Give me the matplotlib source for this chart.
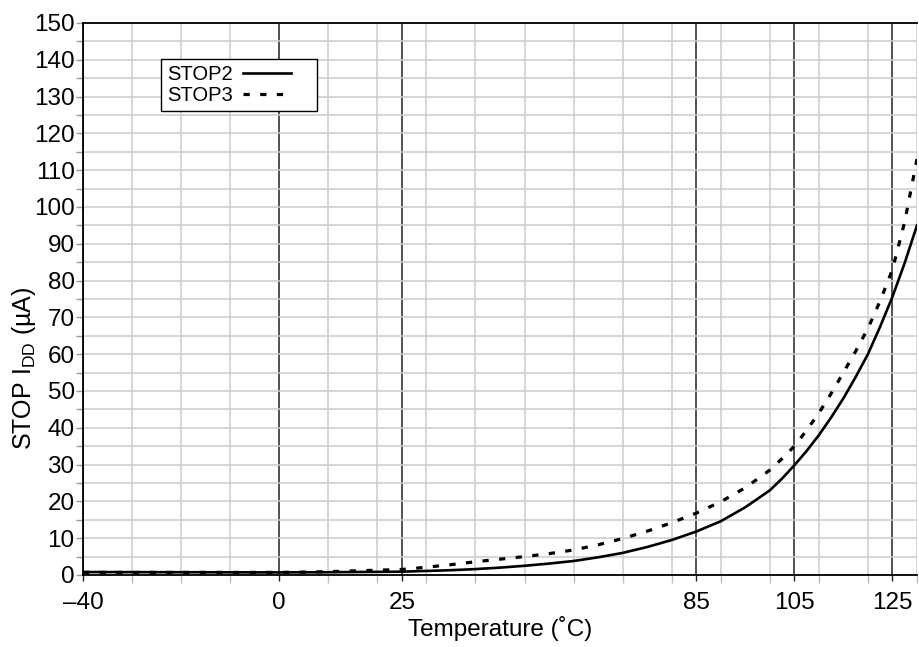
import matplotlib
matplotlib.use("Agg")
import matplotlib.pyplot as plt
from matplotlib.ticker import MultipleLocator, FixedLocator

plt.rcParams['font.family'] = ['Liberation Sans', 'DejaVu Sans']
plt.rcParams['mathtext.default'] = 'regular'
plt.rcParams['lines.scale_dashes'] = False

# Data
temp_stop2 = [-40, -20, 0, 10, 25, 30, 35, 40, 45, 50, 55, 60, 65, 70, 75, 80, 85, 90, 95,
              100, 102.5, 105, 107.5, 110, 112.5, 115, 117.5, 120, 122.5, 125, 127.5, 130]
idd_stop2 = [0.8, 0.75, 0.7, 0.75, 0.9, 1.1, 1.3, 1.6, 2.0, 2.5, 3.1, 3.8, 4.8, 6.0, 7.6, 9.5, 11.8, 14.6, 18.4,
             23.0, 26.2, 29.8, 33.7, 38.0, 42.8, 48.0, 53.8, 60.0, 67.5, 75.6, 84.8, 95.0]

temp_stop3 = [-40, -20, 0, 10, 25, 30, 35, 40, 45, 50, 55, 60, 65, 70, 75, 80, 85, 90, 95,
              100, 102.5, 105, 107.5, 110, 112.5, 115, 117.5, 120, 122.5, 125, 127.5, 130]
idd_stop3 = [0.7, 0.7, 0.7, 0.9, 1.5, 2.1, 2.8, 3.6, 4.3, 5.0, 5.8, 6.8, 8.2, 9.9, 11.9, 14.2, 16.8, 19.9, 23.7,
             28.5, 31.6, 35.0, 39.3, 44.0, 49.3, 55.0, 60.8, 67.0, 74.5, 83.0, 96.0, 113.0]

xticks_major = [-40, 0, 25, 85, 105, 125]
xtick_labels = ['\u201340', '0', '25', '85', '105', '125']
xlim = (-40, 130)
ylim = (0, 150)

fig = plt.figure(figsize=(9.19, 6.47), dpi=100)
ax = fig.add_axes([0.0903, 0.1113, 0.9075, 0.8532])

ax.set_xlim(*xlim)
ax.set_ylim(*ylim)

# Grid
ax.xaxis.set_major_locator(FixedLocator(xticks_major))
ax.set_xticklabels(xtick_labels)
ax.xaxis.set_minor_locator(MultipleLocator(10))
ax.yaxis.set_major_locator(MultipleLocator(10))
ax.yaxis.set_minor_locator(MultipleLocator(5))

ax.grid(True, axis='x', which='minor', color='#cccccc', linewidth=1.1, zorder=0)
ax.grid(True, axis='y', which='both', color='#cccccc', linewidth=1.1, zorder=0)
ax.grid(True, axis='x', which='major', color='#222222', linewidth=1.1, zorder=1)
ax.set_axisbelow(True)

ax.tick_params(axis='y', which='both', direction='out', length=5, width=1, color='#999999',
               labelsize=17.5, pad=1)
ax.tick_params(axis='x', which='major', direction='out', length=4, width=1, color='#222222',
               labelsize=17.5, pad=8)
ax.tick_params(axis='x', which='minor', direction='out', length=6, width=1, color='#bbbbbb')

for side in ['left', 'bottom', 'top']:
    ax.spines[side].set_color('black')
    ax.spines[side].set_linewidth(1.3)
ax.spines['right'].set_visible(False)

ax.plot(temp_stop2, idd_stop2, color='black', linewidth=1.9, label='STOP2', zorder=3)
ax.plot(temp_stop3, idd_stop3, color='black', linewidth=2.3, dashes=(4.5, 7.5), label='STOP3', zorder=3)

ax.set_xlabel('Temperature (\u02daC)', fontsize=17.5, labelpad=2)
ax.set_ylabel('STOP I$_{DD}$ (\u00b5A)', fontsize=18)
ax.yaxis.set_label_coords(-0.054, 0.375)

leg = ax.legend(loc='upper left', bbox_to_anchor=(0.0935, 0.834, 0.187, 0.1), borderaxespad=0,
                mode='expand', markerfirst=False, fontsize=14.5, frameon=True, fancybox=False,
                edgecolor='black', framealpha=1, handlelength=2.4, handletextpad=0.5,
                borderpad=0.3, labelspacing=0.1)
leg.get_frame().set_linewidth(1.0)

fig.savefig('out.png', dpi=100)
